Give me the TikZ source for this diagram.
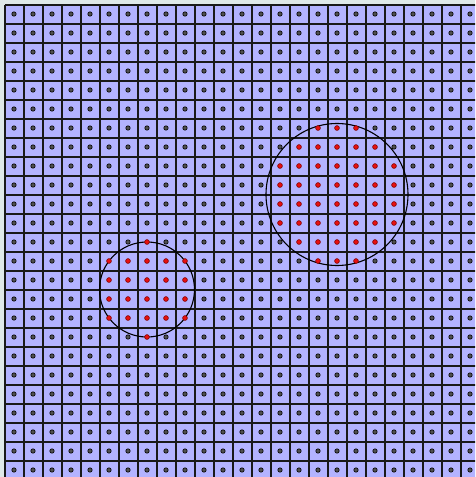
\documentclass[tikz,border=0pt]{standalone}
\definecolor{bgc}{HTML}{DFE8E8}
\definecolor{cellc}{HTML}{B3B3FF}
\definecolor{dotc}{HTML}{505050}
\definecolor{redc}{HTML}{E81010}
\definecolor{redline}{HTML}{7A0000}
\tikzset{
  gridline/.style={line width=1.2pt, draw=black!90},
  dotnode/.style={circle, inner sep=0pt, minimum size=4.4pt, draw=black, fill=dotc, line width=0.6pt},
  reddot/.style={circle, inner sep=0pt, minimum size=4.8pt, draw=redline, fill=redc, line width=0.6pt},
  ring/.style={draw=black, line width=1.1pt}
}
\begin{document}
\begin{tikzpicture}[x=1pt,y=-1pt]
\useasboundingbox (0,0) rectangle (475,477);
\fill[bgc] (0,0) rectangle (475,477);
\begin{scope}
\clip (0,0) rectangle (475,477);
\fill[cellc] (5,5) rectangle (480,480);
\foreach \k in {0,...,25}{
  \draw[gridline] (5+19*\k,5) -- (5+19*\k,480);
  \draw[gridline] (5,5+19*\k) -- (480,5+19*\k);
}
\coordinate (ca) at (147,289.5);
\coordinate (cb) at (337,194.5);
\draw[ring] (ca) circle (47.5);
\draw[ring] (cb) circle (71);
\foreach \i in {0,...,24}{
  \foreach \j in {0,...,24}{
    \pgfmathsetmacro\isred{or(((\i-7)^2+(\j-14.5)^2)<=6.3, ((\i-17)^2+(\j-9.5)^2)<=14.1)}
    \ifdim\isred pt>0.5pt
      \node[reddot] (d-\i-\j) at (14+19*\i,14+19*\j) {};
    \else
      \node[dotnode] (d-\i-\j) at (14+19*\i,14+19*\j) {};
    \fi
  }
}
\end{scope}
\end{tikzpicture}
\end{document}
